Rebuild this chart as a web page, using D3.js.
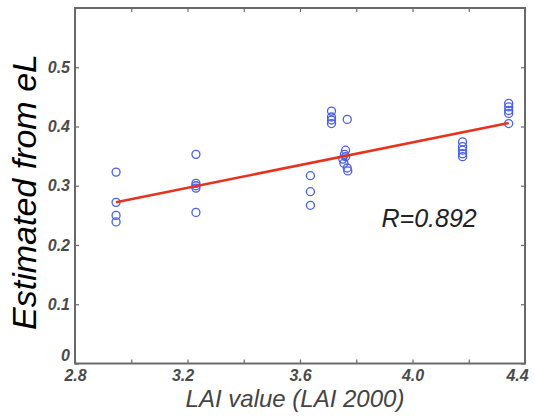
<!DOCTYPE html>
<meta charset="utf-8">
<style>
body { margin: 0; background: #fff; }
.frame { fill: none; stroke: #6a6a6a; stroke-width: 2px; }
.tick line { stroke: #6a6a6a; stroke-width: 1.2px; }
.tick text { font-family: "Liberation Sans", Arial, sans-serif; font-style: italic; font-weight: bold; font-size: 16px; fill: #4a4a4a; }
.pts circle { fill: none; stroke: #4a5fe8; stroke-width: 1.3px; }
</style>
<svg width="534" height="417"></svg>
<script src="https://d3js.org/d3.v7.min.js"></script>
<script>

// LAI value (x) and estimated value (y) for each sample
var laiValues = [2.946, 2.946, 2.946, 2.946,
                 3.23, 3.23, 3.23, 3.23, 3.23,
                 3.637, 3.637, 3.637,
                 3.712, 3.712, 3.712, 3.712,
                 3.768,
                 3.762, 3.758, 3.752, 3.756, 3.768, 3.77, 3.762,
                 4.178, 4.178, 4.178, 4.178, 4.178,
                 4.342, 4.342, 4.342, 4.342, 4.342];
var estValues = [0.323, 0.272, 0.250, 0.239,
                 0.353, 0.304, 0.300, 0.296, 0.255,
                 0.317, 0.290, 0.267,
                 0.426, 0.416, 0.411, 0.405,
                 0.412,
                 0.360, 0.353, 0.345, 0.338, 0.330, 0.325, 0.349,
                 0.374, 0.366, 0.360, 0.354, 0.349,
                 0.439, 0.433, 0.427, 0.422, 0.405];
// fitted regression line end points
var fitX = [2.946, 4.342];
var fitY = [0.272, 0.406];
var xTicks = [2.8, 3.0, 3.2, 3.4, 3.6, 3.8, 4.0, 4.2, 4.4];
var xTickLabels = ["2.8", "", "3.2", "", "3.6", "", "4.0", "", "4.4"];
var yTicks = [0, 0.1, 0.2, 0.3, 0.4, 0.5];
var yTickLabels = ["0", "0.1", "0.2", "0.3", "0.4", "0.5"];
var rText = "R=0.892";

var svg = d3.select("svg"),
    margin = {left: 75, right: 9, top: 8, bottom: 53.5},
    width = +svg.attr("width"),
    height = +svg.attr("height");

var x = d3.scaleLinear().domain([2.8, 4.4]).range([margin.left, width - margin.right]);
var y = d3.scaleLinear().domain([0, 0.6]).range([height - margin.bottom, margin.top]);

// bottom axis
svg.append("g")
    .attr("transform", "translate(0," + y(0) + ")")
    .call(d3.axisBottom(x).tickValues(xTicks).tickSize(-4).tickPadding(6)
      .tickFormat(function(d, i) { return xTickLabels[i]; }))
    .call(function(g) {
      g.select(".domain").remove();
      // last label sits inside the page edge
      g.selectAll(".tick").filter(function(d) { return d === 4.4; })
        .select("text").attr("dx", "-8");
      g.selectAll(".tick").filter(function(d) { return d === 3.2; })
        .select("text").attr("dx", "-5");
    });

// top ticks
svg.append("g")
    .attr("transform", "translate(0," + y(0.6) + ")")
    .call(d3.axisTop(x).tickValues(xTicks).tickSize(-4).tickFormat(""))
    .call(function(g) { g.select(".domain").remove(); });

// left axis
svg.append("g")
    .attr("transform", "translate(" + x(2.8) + ",0)")
    .call(d3.axisLeft(y).tickValues(yTicks).tickSize(-4).tickPadding(5)
      .tickFormat(function(d, i) { return yTickLabels[i]; }))
    .call(function(g) {
      g.select(".domain").remove();
      g.selectAll(".tick").filter(function(d) { return d === 0; })
        .select("text").attr("dy", "-0.2em");
    });

// right ticks
svg.append("g")
    .attr("transform", "translate(" + x(4.4) + ",0)")
    .call(d3.axisRight(y).tickValues(yTicks).tickSize(-4).tickFormat(""))
    .call(function(g) { g.select(".domain").remove(); });

svg.append("rect")
    .attr("class", "frame")
    .attr("x", x(2.8))
    .attr("y", y(0.6))
    .attr("width", x(4.4) - x(2.8))
    .attr("height", y(0) - y(0.6));

// points
svg.append("g")
    .attr("class", "pts")
  .selectAll("circle")
  .data(laiValues)
  .enter().append("circle")
    .attr("cx", function(d) { return x(d); })
    .attr("cy", function(d, i) { return y(estValues[i]); })
    .attr("r", 4);

// regression line
svg.append("line")
    .attr("x1", x(fitX[0])).attr("y1", y(fitY[0]))
    .attr("x2", x(fitX[1])).attr("y2", y(fitY[1]))
    .attr("stroke", "#e8321e")
    .attr("stroke-width", 2.6);

svg.append("text")
    .attr("x", x(3.89))
    .attr("y", y(0.231))
    .style("font-family", "Liberation Sans, Arial, sans-serif")
    .style("font-style", "italic")
    .style("font-size", "25px")
    .style("fill", "#222")
    .text(rText);

// axis titles
svg.append("text")
    .attr("x", 295)
    .attr("y", 407)
    .attr("text-anchor", "middle")
    .style("font-family", "Liberation Sans, Arial, sans-serif")
    .style("font-style", "italic")
    .style("font-size", "24px")
    .style("fill", "#444")
    .text("LAI value (LAI 2000)");

svg.append("text")
    .attr("transform", "translate(36," + 192 + ") rotate(-90)")
    .attr("text-anchor", "middle")
    .style("font-family", "Liberation Sans, Arial, sans-serif")
    .style("font-style", "italic")
    .style("font-size", "34px")
    .style("fill", "#000")
    .text("Estimated from eL");

</script>
